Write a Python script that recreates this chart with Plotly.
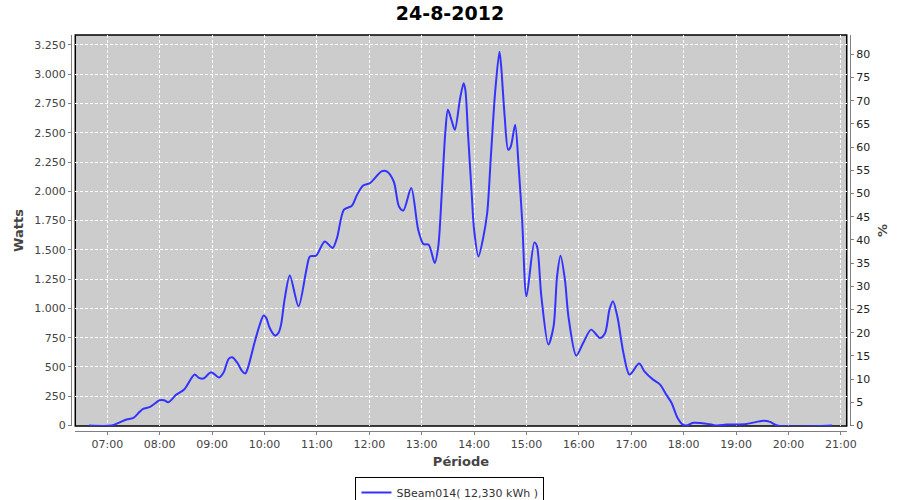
import plotly.graph_objects as go

DAY = "2012-08-24"
times = ["06:39", "07:05", "07:13", "07:22", "07:30", "07:37", "07:41", "07:49", "08:00", "08:05",
         "08:10", "08:19", "08:28", "08:40", "08:45", "08:50", "08:59", "09:08", "09:13", "09:19",
         "09:23", "09:29", "09:34", "09:38", "09:41", "09:49", "09:54", "09:59", "10:02", "10:06",
         "10:12", "10:16", "10:19", "10:23", "10:29", "10:39", "10:48", "10:52", "10:59", "11:09",
         "11:18", "11:23", "11:31", "11:40", "11:46", "11:53", "12:01", "12:14", "12:20", "12:28",
         "12:34", "12:39", "12:48", "12:56", "13:02", "13:08", "13:15", "13:19", "13:23", "13:27",
         "13:30", "13:34", "13:38", "13:44", "13:48", "13:50", "13:53", "13:57", "14:00", "14:05",
         "14:10", "14:15", "14:19", "14:24", "14:29", "14:31", "14:35", "14:39", "14:42", "14:47",
         "14:51", "14:55", "15:00", "15:09", "15:12", "15:17", "15:25", "15:31", "15:35", "15:39",
         "15:44", "15:48", "15:57", "16:05", "16:14", "16:24", "16:30", "16:35", "16:39", "16:44",
         "16:51", "16:58", "17:09", "17:15", "17:25", "17:33", "17:40", "17:46", "17:53", "17:59",
         "18:03", "18:11", "18:30", "18:38", "18:49", "19:12", "19:31", "19:39", "19:47", "20:50"]
watts = [0, 0, 23, 51, 65, 117, 142, 160, 216, 216,
         199, 264, 307, 435, 407, 401, 455, 410, 450, 569,
         583, 535, 469, 444, 492, 719, 847, 939, 919, 833,
         768, 791, 862, 1075, 1282, 1018, 1331, 1444, 1450, 1572,
         1516, 1601, 1843, 1877, 1971, 2050, 2071, 2170, 2170, 2084,
         1871, 1837, 2028, 1672, 1550, 1544, 1388, 1530, 1985, 2497,
         2696, 2611, 2525, 2795, 2924, 2867, 2497, 2014, 1672, 1444,
         1587, 1815, 2270, 2839, 3193, 3066, 2639, 2355, 2383, 2568,
         2212, 1757, 1103, 1564, 1530, 1103, 691, 847, 1274, 1450,
         1246, 933, 597, 706, 819, 748, 791, 990, 1061, 933,
         620, 435, 529, 463, 392, 350, 264, 194, 65, 8,
         0, 23, 11, 0, 8, 14, 40, 31, 0, 0]

series_name = "SBeam014( 12,330 kWh )"
title_text = "24-8-2012"
x_title = "Période"
y_title = "Watts"
y2_title = "%"
x_range = ["06:23:22", "21:06:40"]
y_range = [-4, 3335]
y2_range = [-0.1, 84.16]

x = [f"{DAY} {t}" for t in times]

FONT = "DejaVu Sans"
fig = go.Figure()
fig.add_trace(go.Scatter(
    x=x, y=watts, mode="lines", name=series_name,
    line=dict(color="#3333FF", width=2, shape="spline", smoothing=0.8),
))
fig.add_trace(go.Scatter(x=[x[0]], y=[None], yaxis="y2", showlegend=False,
                         hoverinfo="skip", mode="lines"))

grid = dict(showgrid=True, gridcolor="white", gridwidth=1, griddash="3px,2px")
tickfont = dict(family=FONT, size=11, color="#444444")
titlefont = dict(family=FONT, size=13, color="#444444", weight="bold")

fig.update_layout(
    width=900, height=500,
    margin=dict(l=71, r=50, t=35, b=69, autoexpand=False),
    paper_bgcolor="white", plot_bgcolor="#CCCCCC",
    separators=",.",
    title=dict(text=title_text, x=0.5, xanchor="center", y=0.974, yanchor="middle",
               xref="container", yref="container",
               font=dict(family=FONT, size=19, color="black", weight="bold")),
    xaxis=dict(type="date", range=[f"{DAY} {x_range[0]}", f"{DAY} {x_range[1]}"],
               domain=[0.0055, 0.9958], anchor="free", position=0, automargin=False,
               tick0=f"{DAY} 07:00", dtick=3600000, tickformat="%H:%M",
               showline=True, linecolor="#808080", linewidth=1,
               ticks="outside", ticklen=3, tickcolor="#808080",
               tickfont=tickfont, zeroline=False,
               title=dict(text=x_title, font=titlefont, standoff=6),
               **grid),
    yaxis=dict(range=y_range, domain=[0.0126, 1], anchor="free", position=0, automargin=False,
               tick0=0, dtick=250, separatethousands=True,
               showline=True, linecolor="#808080", linewidth=1,
               ticks="outside", ticklen=3, tickcolor="#808080",
               tickfont=tickfont, zeroline=False,
               title=dict(text=y_title, font=titlefont, standoff=6),
               **grid),
    yaxis2=dict(range=y2_range, overlaying="y", side="right", anchor="free", position=1,
                automargin=False,
                tick0=0, dtick=5, showgrid=False, zeroline=False,
                showline=True, linecolor="#808080", linewidth=1,
                ticks="outside", ticklen=3, tickcolor="#808080",
                tickfont=dict(family=FONT, size=11, color="#222222"),
                title=dict(text=y2_title, font=titlefont, standoff=8)),
    legend=dict(orientation="h", x=0.4865, xanchor="center", y=-0.116, yanchor="top",
                bordercolor="black", borderwidth=1, bgcolor="white",
                font=dict(family=FONT, size=11, color="#333333"), itemwidth=30),
    showlegend=True,
)
fig.add_shape(type="rect", xref="x domain", yref="y domain", x0=0, x1=1, y0=0, y1=1,
              line=dict(color="black", width=1.5), layer="below")

fig.write_html("out.html", post_script="document.body.style.margin='0px';",
               config={"displayModeBar": False})
